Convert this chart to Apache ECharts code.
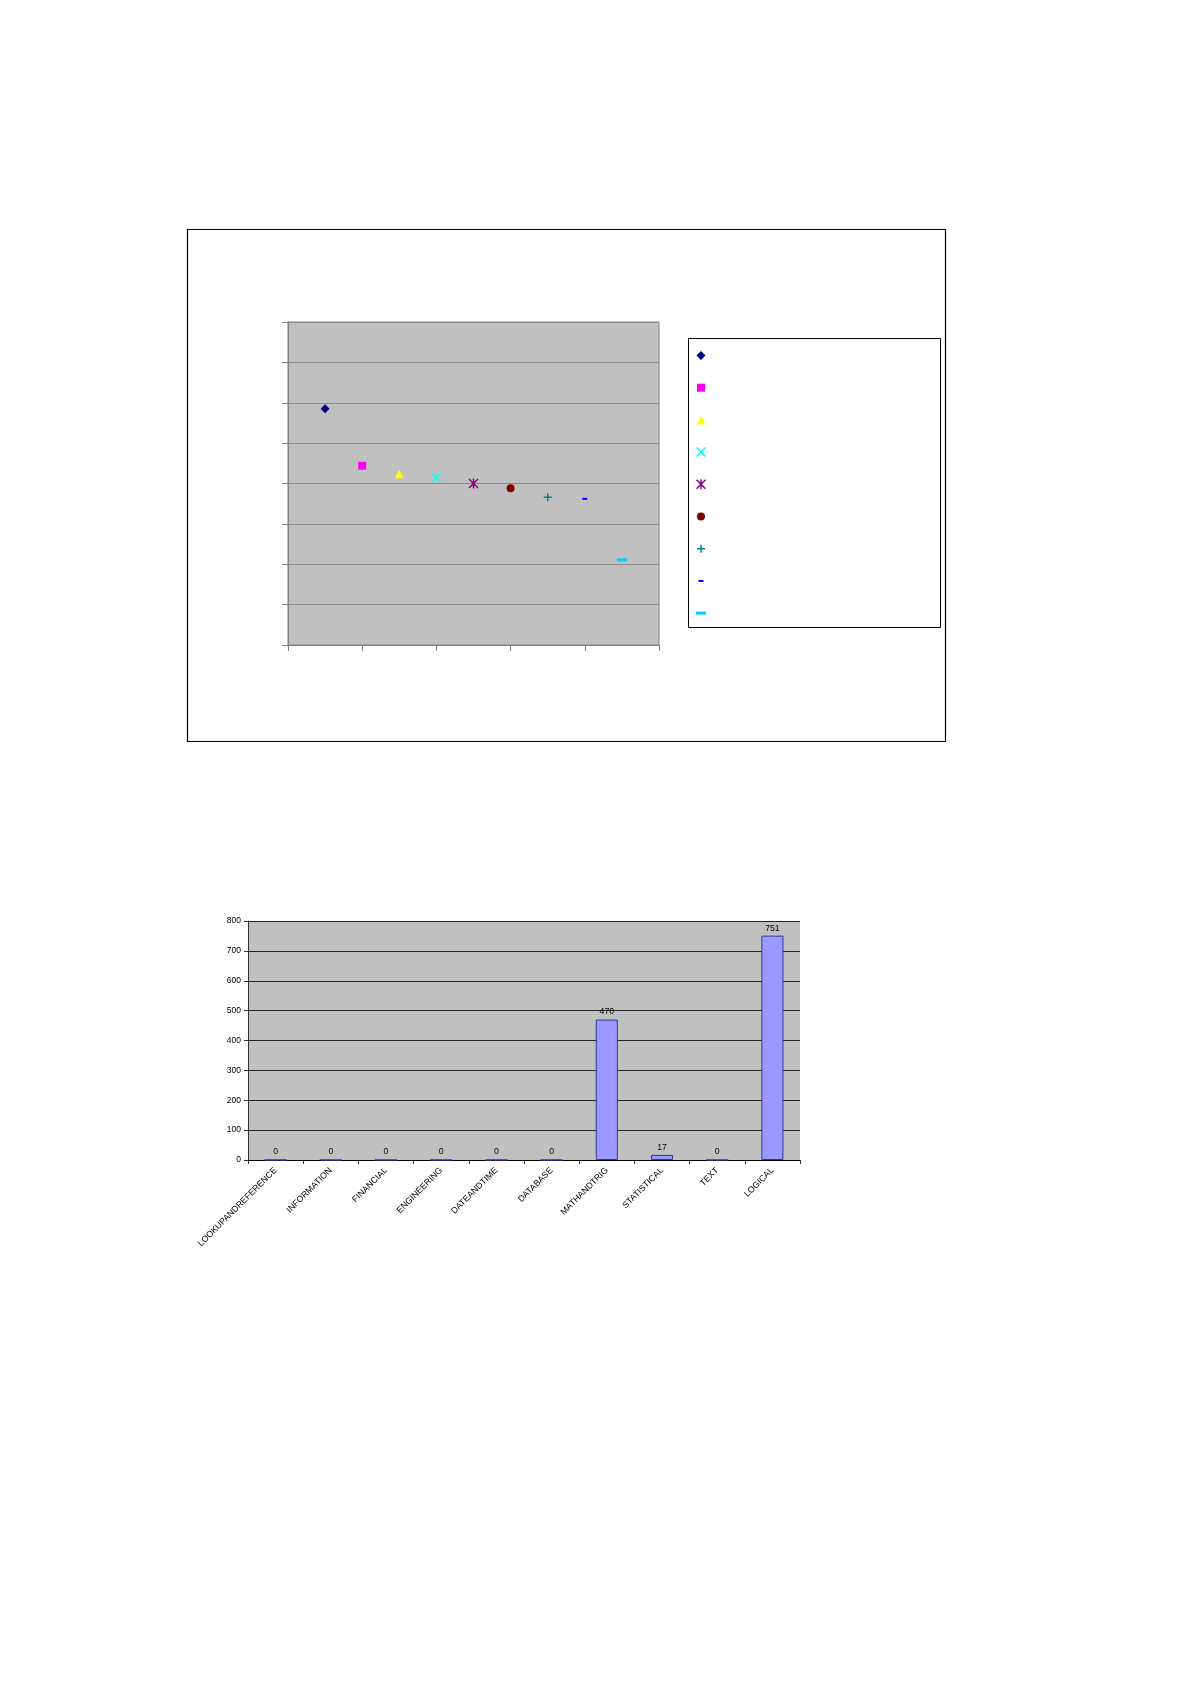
<!DOCTYPE html>
<html>
<head>
<meta charset="utf-8">
<script src="https://cdn.jsdelivr.net/npm/echarts@6/dist/echarts.min.js"></script>
<style>
html,body{margin:0;padding:0;background:#fff;}
#main{width:1191px;height:1685px;}
</style>
</head>
<body>
<div id="main"></div>
<script>
// ---- scatter chart data (one point per series) ----
var scatterNames = ['Series1','Series2','Series3','Series4','Series5','Series6','Series7','Series8','Series9'];
var scatterX = [1, 2, 3, 4, 5, 6, 7, 8, 9];
var scatterY = [58.5, 44.4, 42.4, 41.5, 40.0, 38.8, 36.6, 36.2, 21.1];

// ---- bar chart data ----
var barCategories = ['LOOKUPANDREFERENCE','INFORMATION','FINANCIAL','ENGINEERING','DATEANDTIME','DATABASE','MATHANDTRIG','STATISTICAL','TEXT','LOGICAL'];
var barValues = [0, 0, 0, 0, 0, 0, 470, 17, 0, 751];
var barTicks = [0, 100, 200, 300, 400, 500, 600, 700, 800];

var FONT = '"Liberation Sans", Arial, sans-serif';
var scatterColors = ['#000080','#FF00FF','#FFFF00','#00FFFF','#800080','#800000','#008080','#0000FF','#00CCFF'];
var scatterSymbols = [
  'path://M0,0M10,10M5,0.5L9.5,5L5,9.5L0.5,5Z',
  'path://M0,0M10,10M1,1H9V9H1Z',
  'path://M0,0M10,10M5,1L9.5,9.5H0.5Z',
  'path://M0,1L1,0L5,4L9,0L10,1L6,5L10,9L9,10L5,6L1,10L0,9L4,5Z',
  'path://M0,1L1,0L5,4L9,0L10,1L6,5L10,9L9,10L5,6L1,10L0,9L4,5Z M4.3,0H5.7V10H4.3Z',
  'path://M0,0M10,10M5,1A4,4,0,1,1,4.99,1Z',
  'path://M0,0M10,10M4.3,1H5.7V4.3H9V5.7H5.7V9H4.3V5.7H1V4.3H4.3Z',
  'path://M0,0M10,10M2.5,4H7.5V6H2.5Z',
  'path://M0,0M10,10M0,3.5H10V6.5H0Z'
];

var scatterSeries = scatterNames.map(function (name, i) {
  return {
    name: name,
    type: 'scatter',
    xAxisIndex: 0,
    yAxisIndex: 0,
    symbol: scatterSymbols[i],
    symbolSize: 10,
    itemStyle: { color: scatterColors[i], opacity: 1 },
    data: [[scatterX[i], scatterY[i]]]
  };
});

var chart = echarts.init(document.getElementById('main'), null, {renderer: 'canvas'});
chart.setOption({
  animation: false,
  backgroundColor: '#ffffff',
  textStyle: { fontFamily: FONT },
  graphic: [
    { type: 'rect', z: -10, shape: { x: 187.5, y: 229.5, width: 758, height: 512 },
      style: { fill: 'none', stroke: '#000', lineWidth: 1.2 } },
    { type: 'rect', z: -10, shape: { x: 688.5, y: 338.5, width: 252, height: 289 },
      style: { fill: '#fff', stroke: '#000', lineWidth: 1 } }
  ],
  legend: {
    orient: 'vertical',
    left: 696,
    top: 350.5,
    padding: 0,
    itemWidth: 10,
    itemHeight: 10,
    itemGap: 22.2,
    formatter: function () { return ''; },
    selectedMode: false,
    data: scatterNames
  },
  grid: [
    { left: 288, top: 322, width: 371, height: 323, show: true, backgroundColor: '#C0C0C0',
      borderColor: '#808080', borderWidth: 1, containLabel: false, outerBoundsMode: 'none' },
    { left: 248, top: 921, width: 552, height: 239, show: true, backgroundColor: '#C0C0C0',
      borderWidth: 0, containLabel: false, outerBoundsMode: 'none' }
  ],
  xAxis: [
    { type: 'value', gridIndex: 0, min: 0, max: 10, interval: 2,
      axisLine: { show: true, lineStyle: { color: '#808080' } },
      axisTick: { show: true, length: 6, lineStyle: { color: '#808080' } },
      axisLabel: { show: false }, splitLine: { show: false } },
    { type: 'category', gridIndex: 1, data: barCategories,
      axisLine: { show: true, lineStyle: { color: '#000', width: 1 } },
      axisTick: { show: true, length: 4, lineStyle: { color: '#333' } },
      axisLabel: { rotate: 45, interval: 0, margin: 9, fontSize: 8.7, color: '#000', fontFamily: FONT },
      splitLine: { show: false } }
  ],
  yAxis: [
    { type: 'value', gridIndex: 0, min: 0, max: 80, interval: 10,
      axisLine: { show: true, lineStyle: { color: '#808080' } },
      axisTick: { show: true, length: 6, lineStyle: { color: '#808080' } },
      axisLabel: { show: false },
      splitLine: { show: true, lineStyle: { color: '#8a8a8a', width: 1 } } },
    { type: 'value', gridIndex: 1, min: barTicks[0], max: barTicks[barTicks.length - 1], interval: 100,
      axisLine: { show: true, lineStyle: { color: '#333' } },
      axisTick: { show: true, length: 4, lineStyle: { color: '#333' } },
      axisLabel: { fontSize: 8.5, color: '#000', margin: 7, fontFamily: FONT },
      splitLine: { show: true, lineStyle: { color: '#222', width: 1 } } }
  ],
  series: scatterSeries.concat([
    {
      name: 'Count',
      type: 'bar',
      xAxisIndex: 1,
      yAxisIndex: 1,
      barWidth: '40%',
      data: barValues,
      itemStyle: { color: '#9999FF', borderColor: '#333399', borderWidth: 1 },
      label: { show: true, position: 'top', distance: 3, fontSize: 8.7, color: '#000', fontFamily: FONT }
    }
  ])
});
</script>
</body>
</html>
